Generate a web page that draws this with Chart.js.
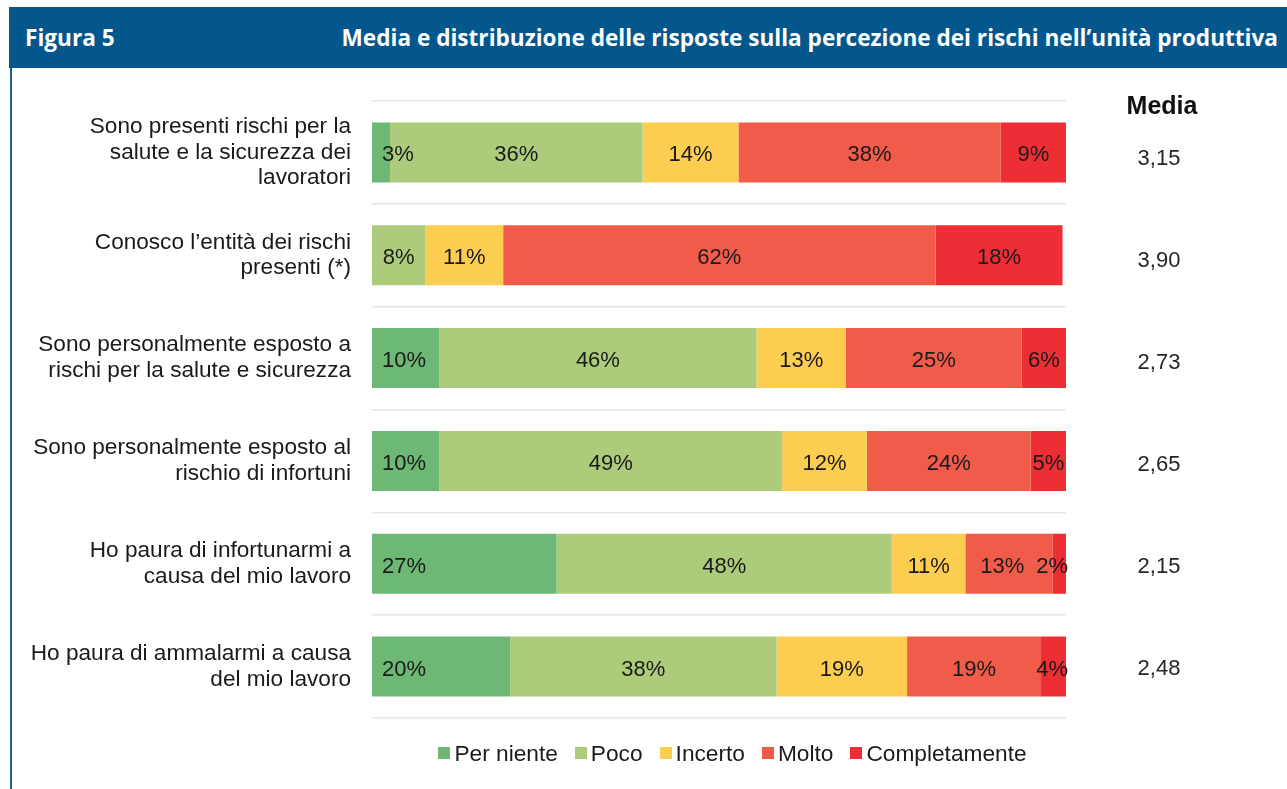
<!DOCTYPE html>
<html>
<head>
<meta charset="utf-8">
<script src="https://cdn.jsdelivr.net/npm/chart.js@4.4.1/dist/chart.umd.min.js"></script>
<style>
  html, body { margin: 0; padding: 0; background: #fff; }
  body { width: 1287px; height: 789px; position: relative; overflow: hidden; }
  #header {
    position: absolute; left: 9px; top: 7px; width: 1278px; height: 61px;
    background: #03578c; color: #fff;
    font-family: "Open Sans", sans-serif; font-weight: 700; font-size: 22.6px;
    display: flex; align-items: center; justify-content: space-between;
    box-sizing: border-box; padding: 0 9px 0 16px;
  }
  #leftline { position: absolute; left: 10px; top: 68px; width: 2px; height: 721px; background: #1b5f93; }
  #chart { position: absolute; left: 0; top: 0; }
  #legend {
    position: absolute; left: 0; top: 741px; width: 1287px; height: 24px;
    display: flex; justify-content: center; align-items: center;
    font-family: "Liberation Sans", Arial, sans-serif; font-size: 22.7px; color: #1a1a1a;
    padding-left: 178px; box-sizing: border-box;
  }
  #legend .item { display: flex; align-items: center; margin-right: 17px; }
  #legend .item:last-child { margin-right: 0; }
  #legend .box { width: 12px; height: 12px; margin-right: 4px; }
</style>
</head>
<body>
<div id="header"><span>Figura 5</span><span>Media e distribuzione delle risposte sulla percezione dei rischi nell’unità produttiva</span></div>
<div id="leftline"></div>
<canvas id="chart" width="1287" height="789"></canvas>
<div id="legend"></div>
<script>
const categories = [
  ["Sono presenti rischi per la", "salute e la sicurezza dei", "lavoratori"],
  ["Conosco l’entità dei rischi", "presenti (*)"],
  ["Sono personalmente esposto a", "rischi per la salute e sicurezza"],
  ["Sono personalmente esposto al", "rischio di infortuni"],
  ["Ho paura di infortunarmi a", "causa del mio lavoro"],
  ["Ho paura di ammalarmi a causa", "del mio lavoro"]
];
const seriesNames = ["Per niente", "Poco", "Incerto", "Molto", "Completamente"];
const seriesColors = ["#6db874", "#adcc7b", "#fccd50", "#f15b4a", "#ed2e35"];

const perNiente     = [2.6, 0, 9.7, 9.7, 26.6, 19.9];
const poco          = [36.4, 7.7, 45.7, 49.4, 48.3, 38.4];
const incerto       = [13.8, 11.2, 12.9, 12.2, 10.6, 18.8];
const molto         = [37.8, 62.3, 25.3, 23.6, 12.6, 19.3];
const completamente = [9.4, 18.3, 6.4, 5.1, 1.9, 3.6];
const media = ["3,15", "3,90", "2,73", "2,65", "2,15", "2,48"];

const seriesData = [perNiente, poco, incerto, molto, completamente];
const FONT = '"Liberation Sans", Arial, sans-serif';

// percent labels inside the bars
const barLabels = {
  id: 'barLabels',
  afterDatasetsDraw(chart) {
    const ctx = chart.ctx;
    ctx.save();
    ctx.font = '22px ' + FONT;
    ctx.fillStyle = '#1a1a1a';
    ctx.textBaseline = 'middle';
    const n = seriesData.length;
    const last = chart.getDatasetMeta(n - 1).data;
    chart.data.datasets.forEach((ds, i) => {
      const meta = chart.getDatasetMeta(i);
      meta.data.forEach((el, j) => {
        const v = ds.data[j];
        if (!v) return;
        const txt = Math.round(v) + '%';
        const left = Math.min(el.x, el.base), right = Math.max(el.x, el.base);
        if (i === 0) {
          ctx.textAlign = 'left';
          ctx.fillText(txt, left + 10, el.y + 3);
          return;
        }
        const w = ctx.measureText(txt).width;
        const rowEnd = Math.max(last[j].x, last[j].base);
        let cx = (left + right) / 2;
        if (cx + w / 2 > rowEnd + 2) cx = rowEnd + 2 - w / 2;
        if (i === n - 2) {
          // make room for the (possibly squeezed) last label
          const le = last[j];
          const lw = ctx.measureText(Math.round(seriesData[n - 1][j]) + '%').width;
          let lcx = (le.x + le.base) / 2;
          if (lcx + lw / 2 > rowEnd + 2) lcx = rowEnd + 2 - lw / 2;
          const lastLeft = lcx - lw / 2;
          if (cx + w / 2 > lastLeft - 12) cx = lastLeft - 12 - w / 2;
        }
        ctx.textAlign = 'center';
        ctx.fillText(txt, cx, el.y + 3);
      });
    });
    ctx.restore();
  }
};

// "Media" column on the right
const mediaColumn = {
  id: 'mediaColumn',
  afterDraw(chart) {
    const ctx = chart.ctx;
    const y = chart.scales.y;
    ctx.save();
    ctx.textAlign = 'center';
    ctx.textBaseline = 'middle';
    ctx.fillStyle = '#111';
    ctx.font = 'bold 25px ' + FONT;
    ctx.fillText('Media', 1162, 107);
    ctx.font = '22px ' + FONT;
    ctx.fillStyle = '#262626';
    media.forEach((m, i) => {
      ctx.fillText(m, 1159, y.getPixelForValue(i) + 7 - i);
    });
    ctx.restore();
  }
};

new Chart(document.getElementById('chart').getContext('2d'), {
  type: 'bar',
  data: {
    labels: categories,
    datasets: seriesData.map((d, i) => ({
      label: seriesNames[i],
      data: d,
      backgroundColor: seriesColors[i],
      borderWidth: 0,
      categoryPercentage: 1,
      barPercentage: 0.584
    }))
  },
  options: {
    indexAxis: 'y',
    responsive: false,
    animation: false,
    layout: { padding: { left: 0, right: 221, top: 101, bottom: 71 } },
    scales: {
      x: { stacked: true, min: 0, max: 100, display: false },
      y: {
        stacked: true,
        grid: { offset: true, color: '#e6e6e6', lineWidth: 1.5, drawTicks: false },
        border: { display: false },
        ticks: { font: { family: FONT, size: 22.6, lineHeight: 1.14 }, color: '#1a1a1a', padding: 21 },
        afterFit(scale) { scale.width = 372; }
      }
    },
    plugins: {
      legend: { display: false },
      tooltip: { enabled: false }
    }
  },
  plugins: [barLabels, mediaColumn]
});

// legend
const legend = document.getElementById('legend');
seriesNames.forEach((name, i) => {
  const item = document.createElement('div');
  item.className = 'item';
  item.innerHTML = '<div class="box" style="background:' + seriesColors[i] + '"></div><span>' + name + '</span>';
  legend.appendChild(item);
});
</script>
</body>
</html>
